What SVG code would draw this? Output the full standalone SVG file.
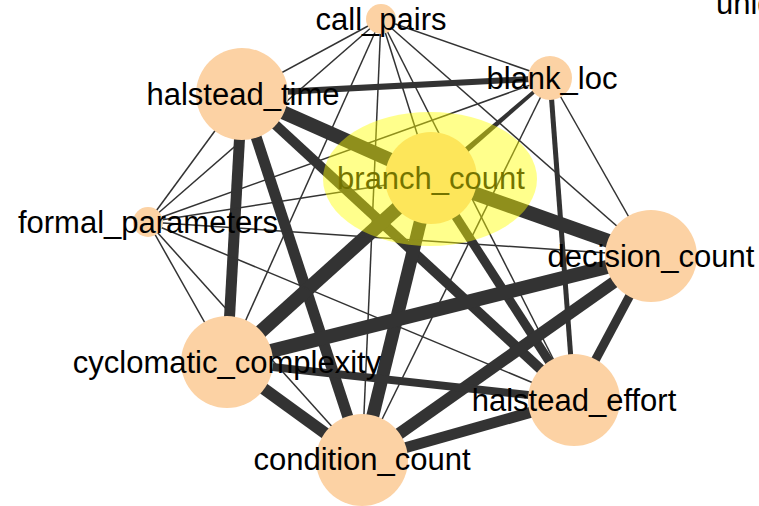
<svg xmlns="http://www.w3.org/2000/svg" width="759" height="506" viewBox="0 0 759 506">
  <style>
    .bg { fill: #ffffff; }
    .edge { stroke: #333333; stroke-linecap: butt; fill: none; }
    .w1 { stroke-width: 1.5; }
    .w3 { stroke-width: 3; }
    .w5 { stroke-width: 5; }
    .w6 { stroke-width: 6; }
    .w8 { stroke-width: 8; }
    .w9 { stroke-width: 9; }
    .w10 { stroke-width: 10; }
    .w11 { stroke-width: 11; }
    .w12 { stroke-width: 12; }
    .w13 { stroke-width: 13; }
    .w14 { stroke-width: 14; }
    .node circle { fill: #fcd2a4; }
    .label { font-family: "Liberation Sans", Arial, sans-serif; font-size: 31px; fill: #000000; text-anchor: middle; }
    .edge-label { font-family: "Liberation Sans", Arial, sans-serif; font-size: 31px; fill: #000000; }
    .highlight { fill: #ffff00; fill-opacity: 0.45; }
  </style>
  <rect class="bg" x="0" y="0" width="759" height="506"/>

  <!-- connectors -->
  <g id="edges">
    <!-- call_pairs -->
    <line class="edge w1" x1="381" y1="19" x2="550" y2="78"/>
    <line class="edge w1" x1="381" y1="19" x2="242" y2="94"/>
    <line class="edge w1" x1="381" y1="19" x2="431" y2="178"/>
    <line class="edge w1" x1="381" y1="19" x2="148" y2="222"/>
    <line class="edge w1" x1="381" y1="19" x2="651" y2="256"/>
    <line class="edge w1" x1="381" y1="19" x2="227" y2="362"/>
    <line class="edge w1" x1="381" y1="19" x2="574" y2="400"/>
    <line class="edge w1" x1="381" y1="19" x2="362" y2="460"/>
    <!-- blank_loc -->
    <line class="edge w6" x1="550" y1="78" x2="242" y2="94"/>
    <line class="edge w3" x1="550" y1="78" x2="431" y2="178"/>
    <line class="edge w1" x1="550" y1="78" x2="148" y2="222"/>
    <line class="edge w1" x1="550" y1="78" x2="651" y2="256"/>
    <line class="edge w3" x1="550" y1="78" x2="227" y2="362"/>
    <line class="edge w5" x1="550" y1="78" x2="574" y2="400"/>
    <line class="edge w1" x1="550" y1="78" x2="362" y2="460"/>
    <!-- halstead_time -->
    <line class="edge w14" x1="242" y1="94" x2="431" y2="178"/>
    <line class="edge w1" x1="242" y1="94" x2="148" y2="222"/>
    <line class="edge w11" x1="242" y1="94" x2="227" y2="362"/>
    <line class="edge w10" x1="242" y1="94" x2="574" y2="400"/>
    <line class="edge w11" x1="242" y1="94" x2="362" y2="460"/>
    <!-- branch_count -->
    <line class="edge w1" x1="431" y1="178" x2="148" y2="222"/>
    <line class="edge w14" x1="431" y1="178" x2="651" y2="256"/>
    <line class="edge w14" x1="431" y1="178" x2="227" y2="362"/>
    <line class="edge w9" x1="431" y1="178" x2="574" y2="400"/>
    <line class="edge w13" x1="431" y1="178" x2="362" y2="460"/>
    <!-- formal_parameters -->
    <line class="edge w1" x1="148" y1="222" x2="651" y2="256"/>
    <line class="edge w1" x1="148" y1="222" x2="227" y2="362"/>
    <line class="edge w1" x1="148" y1="222" x2="574" y2="400"/>
    <line class="edge w1" x1="148" y1="222" x2="362" y2="460"/>
    <!-- decision_count -->
    <line class="edge w14" x1="651" y1="256" x2="227" y2="362"/>
    <line class="edge w9" x1="651" y1="256" x2="574" y2="400"/>
    <line class="edge w12" x1="651" y1="256" x2="362" y2="460"/>
    <!-- cyclomatic_complexity -->
    <line class="edge w8" x1="227" y1="362" x2="574" y2="400"/>
    <line class="edge w12" x1="227" y1="362" x2="362" y2="460"/>
    <!-- halstead_effort -->
    <line class="edge w11" x1="574" y1="400" x2="362" y2="460"/>
  </g>

  <!-- nodes -->
  <g id="node-call_pairs" class="node">
    <circle cx="381" cy="19" r="15"/>
    <text class="label" x="381" y="30">call_pairs</text>
  </g>
  <g id="node-blank_loc" class="node">
    <circle cx="550" cy="78" r="22"/>
    <text class="label" x="552" y="89">blank_loc</text>
  </g>
  <g id="node-halstead_time" class="node">
    <circle cx="242" cy="94" r="46"/>
    <text class="label" x="243" y="105">halstead_time</text>
  </g>
  <g id="node-formal_parameters" class="node">
    <circle cx="148" cy="222" r="15"/>
    <text class="label" x="148" y="233">formal_parameters</text>
  </g>
  <g id="node-decision_count" class="node">
    <circle cx="651" cy="256" r="46"/>
    <text class="label" x="651" y="267">decision_count</text>
  </g>
  <g id="node-cyclomatic_complexity" class="node">
    <circle cx="227" cy="362" r="46"/>
    <text class="label" x="227" y="373">cyclomatic_complexity</text>
  </g>
  <g id="node-halstead_effort" class="node">
    <circle cx="574" cy="400" r="46"/>
    <text class="label" x="574" y="411">halstead_effort</text>
  </g>
  <g id="node-condition_count" class="node">
    <circle cx="362" cy="460" r="46"/>
    <text class="label" x="362" y="470">condition_count</text>
  </g>
  <g id="node-branch_count" class="node">
    <circle cx="431" cy="178" r="46"/>
    <text class="label" x="431" y="189">branch_count</text>
  </g>

  <!-- partly visible label at the top right edge -->
  <g id="node-unique">
    <text class="edge-label" x="716" y="14">unique_operands</text>
  </g>

  <!-- selection halo over branch_count -->
  <ellipse class="highlight" cx="430" cy="179" rx="107" ry="67"/>
</svg>
